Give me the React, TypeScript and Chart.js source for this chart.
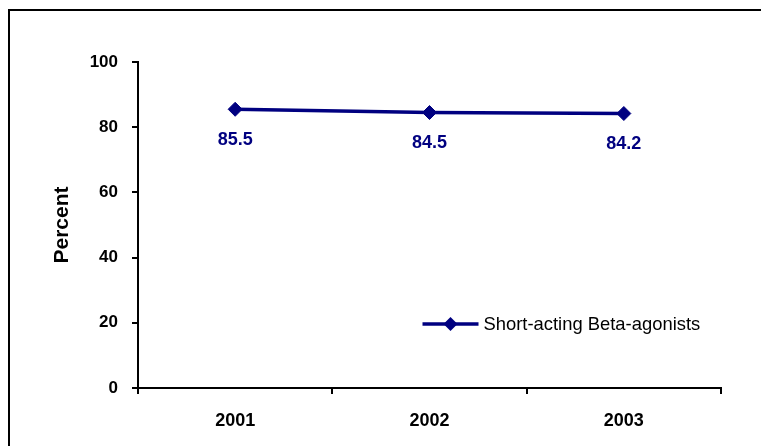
import React, { useEffect, useRef } from "react";
import { Chart, registerables } from "chart.js";

Chart.register(...registerables);

const categories = ["2001", "2002", "2003"];
const seriesLabel = "Short-acting Beta-agonists";
const seriesValues = [85.5, 84.5, 84.2];
const yTicks = [0, 20, 40, 60, 80, 100];

const FONT = 'Arial, "Liberation Sans", sans-serif';
const NAVY = "#000080";

const framePlugin = {
  id: "frame",
  beforeDraw(chart: any) {
    const ctx = chart.ctx;
    ctx.save();
    ctx.fillStyle = "#ffffff";
    ctx.fillRect(0, 0, chart.width, chart.height);
    ctx.strokeStyle = "#000000";
    ctx.lineWidth = 2;
    ctx.strokeRect(9, 10, chart.width + 20, chart.height + 20);
    ctx.restore();
  },
};

const labelsPlugin = {
  id: "valueLabels",
  afterDatasetsDraw(chart: any) {
    const ctx = chart.ctx;
    const meta = chart.getDatasetMeta(0);
    const data = chart.data.datasets[0].data;
    ctx.save();
    ctx.font = `bold 18px ${FONT}`;
    ctx.fillStyle = NAVY;
    ctx.textAlign = "center";
    ctx.textBaseline = "middle";
    meta.data.forEach((pt: any, i: number) => {
      ctx.fillText(String(data[i]), pt.x, pt.y + 31);
    });
    ctx.restore();
  },
};

const legendPlugin = {
  id: "innerLegend",
  afterDraw(chart: any) {
    const ctx = chart.ctx;
    const area = chart.chartArea;
    const ds = chart.data.datasets[0];
    const x0 = area.left + (area.right - area.left) * 0.488;
    const x1 = x0 + 56;
    const y = area.bottom - 64;
    ctx.save();
    ctx.strokeStyle = NAVY;
    ctx.lineWidth = 3.5;
    ctx.beginPath();
    ctx.moveTo(x0, y);
    ctx.lineTo(x1, y);
    ctx.stroke();
    const cx = (x0 + x1) / 2;
    const r = 7;
    ctx.fillStyle = NAVY;
    ctx.beginPath();
    ctx.moveTo(cx - r, y);
    ctx.lineTo(cx, y - r);
    ctx.lineTo(cx + r, y);
    ctx.lineTo(cx, y + r);
    ctx.closePath();
    ctx.fill();
    ctx.fillStyle = "#000000";
    ctx.font = `18.4px ${FONT}`;
    ctx.textAlign = "left";
    ctx.textBaseline = "middle";
    ctx.fillText(ds.label, x1 + 5, y + 1);
    ctx.restore();
  },
};

export default function App() {
  const ref = useRef<HTMLCanvasElement>(null);
  useEffect(() => {
    if (!ref.current) return;
    const chart = new Chart(ref.current, {
      type: "line",
      data: {
        labels: categories,
        datasets: [
          {
            label: seriesLabel,
            data: seriesValues,
            borderColor: NAVY,
            backgroundColor: NAVY,
            borderWidth: 3.5,
            pointStyle: "rectRot",
            pointRadius: 7,
            pointBorderWidth: 1,
            pointBackgroundColor: NAVY,
            pointBorderColor: NAVY,
            tension: 0,
          },
        ],
      },
      options: {
        animation: false,
        responsive: false,
        layout: { padding: { left: 0, top: 62, right: 40, bottom: 0 } },
        plugins: {
          legend: { display: false },
          tooltip: { enabled: false },
        },
        scales: {
          x: {
            type: "category",
            offset: true,
            grid: {
              offset: true,
              drawOnChartArea: false,
              drawTicks: true,
              tickLength: 6,
              color: "#000000",
              lineWidth: 2,
            },
            border: { display: true, color: "#000000", width: 2 },
            ticks: {
              color: "#000000",
              font: { family: FONT, size: 18, weight: "bold" },
              padding: 16,
              maxRotation: 0,
            },
            afterFit(scale: any) {
              scale.height = 58;
            },
          },
          y: {
            min: 0,
            max: 100,
            afterBuildTicks(scale: any) {
              scale.ticks = yTicks.map((v) => ({ value: v }));
            },
            grid: {
              drawOnChartArea: false,
              drawTicks: true,
              tickLength: 6,
              color: "#000000",
              lineWidth: 2,
            },
            border: { display: true, color: "#000000", width: 2 },
            ticks: {
              color: "#000000",
              font: { family: FONT, size: 17, weight: "bold" },
              padding: 14,
            },
            title: {
              display: true,
              text: "Percent",
              color: "#000000",
              font: { family: FONT, size: 21, weight: "bold" },
              padding: { top: 50, bottom: 0 },
            },
            afterFit(scale: any) {
              scale.width = 138;
            },
          },
        },
      },
      plugins: [framePlugin, labelsPlugin, legendPlugin],
    });
    return () => chart.destroy();
  }, []);
  return (
    <div style={{ position: "absolute", left: 0, top: 0, width: 761, height: 446 }}>
      <canvas ref={ref} width={761} height={446} style={{ display: "block" }} />
    </div>
  );
}
